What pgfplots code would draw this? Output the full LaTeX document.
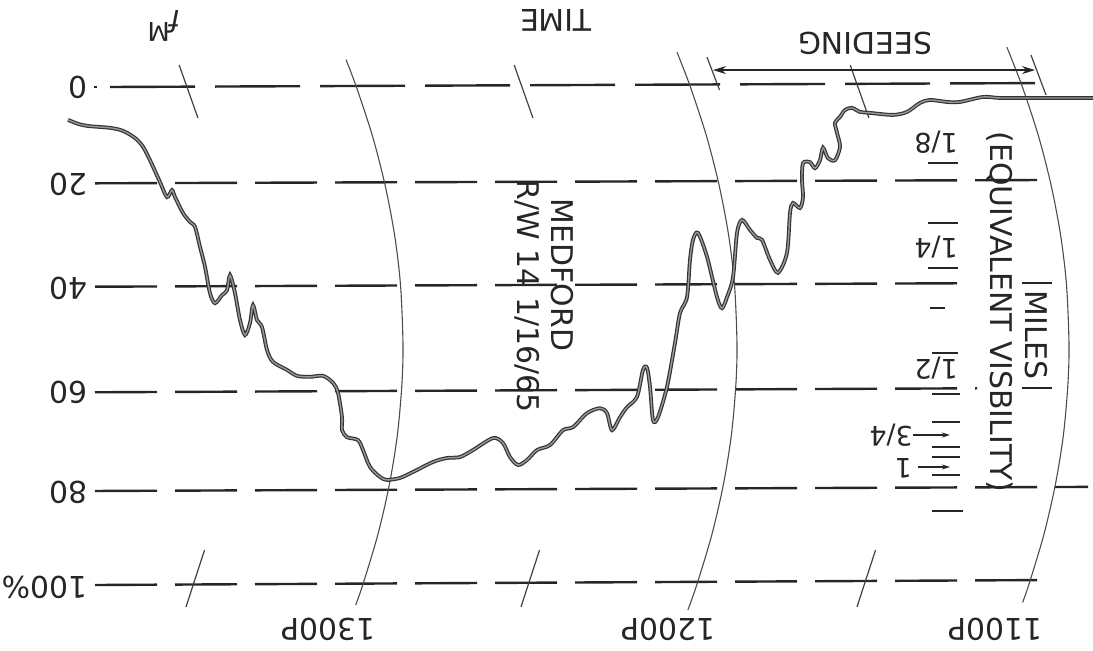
\documentclass[border=0pt]{standalone}
\usepackage{pgfplots}
\pgfplotsset{compat=1.18}
\usepackage{fontspec}
\setmainfont{DejaVu Sans}
\usetikzlibrary{arrows.meta}

\begin{document}
\begin{tikzpicture}[
    grid line/.style={black!85, line width=2.4bp, dash pattern=on 62bp off 18bp},
    time arc/.style={black!70, line width=1.1bp, smooth},
    time tick/.style={black!75, line width=1.2bp},
    mark line/.style={black!85, line width=1.8bp},
    lbl/.style={font=\fontsize{30}{30}\selectfont, text=black!85, inner sep=0pt},
    frac/.style={font=\fontsize{27}{27}\selectfont, text=black!85, inner sep=0pt},
]
\begin{axis}[
    name=ax,
    x=1bp, y=4.98bp, y dir=reverse,
    xmin=0, xmax=1093, ymin=-17.47, ymax=113.25,
    hide axis, clip=false,
]

% Mf scale lines (0 at top, 100% at bottom)
\addplot[grid line, dash pattern=on 85bp off 20bp] coordinates {(110,0) (1052,-0.8)};
\addplot[grid line] coordinates {(95,19.34) (1050,18.67)};
\addplot[grid line] coordinates {(95,40.1) (975,39.4)};
\addplot[grid line] coordinates {(1022,39.3) (1052,39.3)};
\addplot[grid line] coordinates {(95,61.3) (977,60.5)};
\addplot[grid line] coordinates {(1022,60.4) (1052,60.4)};
\addplot[grid line] coordinates {(95,81.12) (1088,80.3)};
\addplot[grid line] coordinates {(95,100) (1048,99.0)};
\addplot[black!85, line width=2.4bp] coordinates {(94,0) (97,0)};

% hour arcs
\addplot[time arc] coordinates {(346,-5.5) (356.4,0) (372.7,10) (385.4,20) (394.8,30) (400.6,40) (403,51.8) (401.8,60) (397.3,70) (389.2,80) (377.7,90) (362.7,100) (355.7,104)};
\addplot[time arc] coordinates {(677,-7) (690.4,0) (706.7,10) (719.4,20) (728.8,30) (734.6,40) (737,51.8) (735.8,60) (731.3,70) (723.2,80) (711.7,90) (696.7,100) (687.9,105)};
\addplot[time arc] coordinates {(1006.9,-8) (1022.4,0) (1038.7,10) (1051.4,20) (1060.8,30) (1066.6,40) (1069,51.8) (1067.8,60) (1063.3,70) (1055.2,80) (1043.7,90) (1028.7,100) (1022.6,103.5)};

% half-hour ticks
\addplot[time tick] coordinates {(179.2,-4.4) (197.9,6.2)};
\addplot[time tick] coordinates {(204.5,93) (186,104.4)};
\addplot[time tick] coordinates {(514.2,-4.4) (532.9,6.2)};
\addplot[time tick] coordinates {(539.5,93) (521,104.4)};
\addplot[time tick] coordinates {(850.2,-4.4) (868.9,6.2)};
\addplot[time tick] coordinates {(875.5,93) (857,104.4)};

% seeding interval
\addplot[time tick] coordinates {(707,-6) (719.5,0.6)};
\addplot[time tick] coordinates {(1031,-6.4) (1046,1.6)};
\addplot[black!85, line width=1.4bp, {Stealth[length=13bp,width=8bp]}-{Stealth[length=13bp,width=8bp]}] coordinates {(713,-3.4) (1035,-3.4)};

% visibility marks
\addplot[mark line] coordinates {(928,15.26) (958,15.26)};
\addplot[mark line] coordinates {(928,27.31) (958,27.31)};
\addplot[mark line] coordinates {(928,36.35) (958,36.35)};
\addplot[mark line] coordinates {(930,44.38) (945,44.38)};
\addplot[mark line] coordinates {(932,53.41) (958,53.41)};
\addplot[mark line] coordinates {(932,61.7) (960,61.7)};
\addplot[mark line] coordinates {(932,67.27) (960,67.27)};
\addplot[mark line] coordinates {(932,72.29) (960,72.29)};
\addplot[mark line] coordinates {(932,74.30) (960,74.30)};
\addplot[mark line] coordinates {(932,77.91) (960,77.91)};
\addplot[mark line] coordinates {(932,85.14) (963,85.14)};
\addplot[black!85, line width=1.4bp, -{Stealth[length=8bp,width=5bp]}] coordinates {(913,69.88) (950,69.88)};
\addplot[black!85, line width=1.4bp, -{Stealth[length=8bp,width=5bp]}] coordinates {(918,76.3) (950,76.3)};

% Mf trace
\addplot[black!80, line width=3.8bp, smooth, tension=0.5] coordinates {
(68,6.6) (78,7.4) (87,7.8) (98,8.0) (110,8.2) (120,8.6) (127,9.2) (136,10.4) (143,12.0) (150,14.7)
(160,19.1) (167,22.1) (172,20.7) (175,22.1) (183,25.3) (190,27.1) (195,28.1) (200,32.1) (205,36.1)
(210,41.4) (215,43.4) (222,41.8) (227,40.8) (230,37.8) (235,41.4) (240,46.8) (245,49.8) (250,47.4)
(253,43.8) (257,46.8) (262,48.2) (267,52.8) (273,55.2) (287,56.8) (297,58.0) (310,58.2) (323,58.0)
(333,59.4) (338,61.4) (342,66.3) (342,68.9) (347,70.3) (358,70.9) (363,72.9) (370,76.3) (380,78.3)
(387,78.9) (400,78.5) (413,77.3) (433,75.3) (447,74.5) (460,74.3) (473,72.9) (493,70.5) (503,71.5)
(510,74.3) (518,75.9) (527,74.9) (537,72.9) (550,71.9) (563,68.9) (573,68.3) (587,65.5) (600,64.5)
(607,65.5) (612,68.9) (620,66.3) (627,64.3) (637,62.2) (643,56.8) (647,56.4) (650,60.2) (653,66.9)
(658,66.3) (667,60.2) (675,51.4) (680,45.4) (687,42.2) (690,34.7) (693,30.7) (698,29.3) (707,34.1)
(717,42.2) (722,44.4) (727,42.2) (733,38.2) (737,29.3) (742,26.7) (750,28.7) (757,30.3) (762,30.7)
(770,34.7) (778,37.3) (787,33.3) (790,25.3) (793,23.3) (800,24.3) (803,22.1) (802,18.7) (803,15.3)
(810,15.1) (815,16.3) (820,14.7) (823,12.2) (828,14.3) (835,14.7) (840,12.0) (837,9.2) (835,7.2)
(840,6.0) (845,4.6) (852,4.2) (860,5.0) (870,5.2) (893,5.6) (907,5.0) (920,3.2) (930,2.6) (947,3.0)
(960,3.0) (983,2.0) (1000,2.2) (1033,2.2) (1093,2.2)};
\addplot[black!40, line width=1.4bp, smooth, tension=0.5] coordinates {
(68,6.6) (78,7.4) (87,7.8) (98,8.0) (110,8.2) (120,8.6) (127,9.2) (136,10.4) (143,12.0) (150,14.7)
(160,19.1) (167,22.1) (172,20.7) (175,22.1) (183,25.3) (190,27.1) (195,28.1) (200,32.1) (205,36.1)
(210,41.4) (215,43.4) (222,41.8) (227,40.8) (230,37.8) (235,41.4) (240,46.8) (245,49.8) (250,47.4)
(253,43.8) (257,46.8) (262,48.2) (267,52.8) (273,55.2) (287,56.8) (297,58.0) (310,58.2) (323,58.0)
(333,59.4) (338,61.4) (342,66.3) (342,68.9) (347,70.3) (358,70.9) (363,72.9) (370,76.3) (380,78.3)
(387,78.9) (400,78.5) (413,77.3) (433,75.3) (447,74.5) (460,74.3) (473,72.9) (493,70.5) (503,71.5)
(510,74.3) (518,75.9) (527,74.9) (537,72.9) (550,71.9) (563,68.9) (573,68.3) (587,65.5) (600,64.5)
(607,65.5) (612,68.9) (620,66.3) (627,64.3) (637,62.2) (643,56.8) (647,56.4) (650,60.2) (653,66.9)
(658,66.3) (667,60.2) (675,51.4) (680,45.4) (687,42.2) (690,34.7) (693,30.7) (698,29.3) (707,34.1)
(717,42.2) (722,44.4) (727,42.2) (733,38.2) (737,29.3) (742,26.7) (750,28.7) (757,30.3) (762,30.7)
(770,34.7) (778,37.3) (787,33.3) (790,25.3) (793,23.3) (800,24.3) (803,22.1) (802,18.7) (803,15.3)
(810,15.1) (815,16.3) (820,14.7) (823,12.2) (828,14.3) (835,14.7) (840,12.0) (837,9.2) (835,7.2)
(840,6.0) (845,4.6) (852,4.2) (860,5.0) (870,5.2) (893,5.6) (907,5.0) (920,3.2) (930,2.6) (947,3.0)
(960,3.0) (983,2.0) (1000,2.2) (1033,2.2) (1093,2.2)};

% labels (the sheet is upside down)
\node[lbl, rotate=180, anchor=west] at (axis cs:88,0.1) {0};
\node[lbl, rotate=180, anchor=west] at (axis cs:88,19.5) {20};
\node[lbl, rotate=180, anchor=west] at (axis cs:88,40.4) {40};
\node[lbl, rotate=180, anchor=west] at (axis cs:88,61.3) {60};
\node[lbl, rotate=180, anchor=west] at (axis cs:88,81.4) {80};
\node[lbl, rotate=180, anchor=west] at (axis cs:88,100.4) {100\%};

\node[lbl, rotate=180] at (axis cs:164,-12.25) {\raisebox{-12bp}{\fontsize{30}{30}\selectfont\itshape f}\fontsize{26}{26}\selectfont M};
\node[lbl, rotate=180] at (axis cs:556,-13.45) {TIME};
\node[lbl, rotate=180] at (axis cs:865,-8.84) {SEEDING};

\node[lbl, rotate=180] at (axis cs:328,109) {1300P};
\node[lbl, rotate=180] at (axis cs:668,109) {1200P};
\node[lbl, rotate=180] at (axis cs:995,109) {1100P};

\node[lbl, rotate=-90] at (axis cs:562,37.75) {MEDFORD};
\node[lbl, rotate=-90] at (axis cs:527,42.0) {R/W 14 1/16/65};
\node[lbl, rotate=-90] at (axis cs:1036,49.8) {MILES};
\node[lbl, rotate=-90] at (axis cs:1000,45.2) {(EQUIVALENT VISBILITY)};

\node[frac, rotate=180, anchor=west] at (axis cs:958,11.04) {1/8};
\node[frac, rotate=180, anchor=west] at (axis cs:958,32.13) {1/4};
\node[frac, rotate=180, anchor=west] at (axis cs:958,56.43) {1/2};
\node[frac, rotate=180, anchor=west] at (axis cs:913,69.88) {3/4};
\node[frac, rotate=180, anchor=west] at (axis cs:912,76.51) {1};
\end{axis}
\pgfresetboundingbox
\path (ax.south west) rectangle (ax.north east);
\end{tikzpicture}
\end{document}
